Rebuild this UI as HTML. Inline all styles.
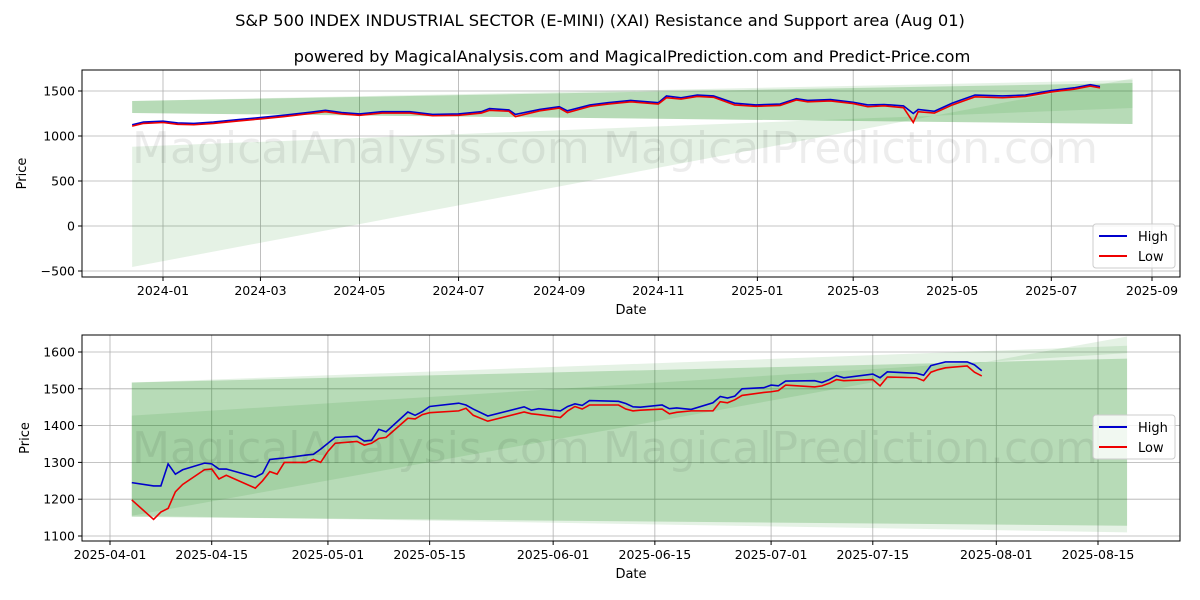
<!DOCTYPE html>
<html><head><meta charset="utf-8">
<style>
body{margin:0;background:#fff;}
svg{display:block;font-family:"DejaVu Sans","Liberation Sans",sans-serif;}
</style></head>
<body>
<svg id="chart" width="1200" height="600" viewBox="0 0 1200 600" xmlns="http://www.w3.org/2000/svg">
<text x="600" y="26" text-anchor="middle" font-size="16.3">S&amp;P 500 INDEX INDUSTRIAL SECTOR (E-MINI) (XAI) Resistance and Support area (Aug 01)</text>
<text x="632" y="62" text-anchor="middle" font-size="16.3">powered by MagicalAnalysis.com and MagicalPrediction.com and Predict-Price.com</text>
<g id="top"></g>
<g id="bot"></g>
</svg>
<script>
// ---- top chart data ----
const topDates=["2023-12-13","2023-12-20","2024-01-01","2024-01-10","2024-01-20","2024-02-01","2024-02-15","2024-03-01","2024-03-15","2024-04-01","2024-04-10","2024-04-20","2024-05-01","2024-05-15","2024-06-01","2024-06-15","2024-07-01","2024-07-15","2024-07-20","2024-08-01","2024-08-05","2024-08-20","2024-09-01","2024-09-06","2024-09-20","2024-10-01","2024-10-15","2024-11-01","2024-11-06","2024-11-15","2024-11-25","2024-12-05","2024-12-18","2024-12-31","2025-01-15","2025-01-25","2025-02-01","2025-02-15","2025-03-01","2025-03-10","2025-03-20","2025-04-01","2025-04-07","2025-04-10","2025-04-20","2025-05-01","2025-05-15","2025-06-01","2025-06-15","2025-07-01","2025-07-15","2025-07-25","2025-07-31"];
const topHigh=[1125,1155,1165,1145,1140,1155,1180,1205,1230,1265,1285,1260,1245,1270,1270,1240,1245,1270,1305,1290,1240,1295,1325,1280,1345,1370,1395,1370,1445,1425,1455,1445,1365,1345,1355,1415,1395,1405,1375,1345,1350,1335,1250,1295,1275,1365,1455,1445,1455,1505,1535,1570,1550];
const topLow=[1110,1140,1150,1130,1125,1140,1165,1190,1215,1250,1270,1245,1230,1255,1255,1225,1230,1255,1285,1275,1215,1280,1310,1260,1330,1355,1380,1355,1425,1410,1440,1430,1345,1330,1340,1400,1380,1390,1360,1325,1335,1315,1150,1270,1255,1345,1435,1425,1440,1490,1520,1555,1535];
const topBandDates=["2023-12-13","2025-08-20"];
const topBand1Upper=[1389,1589], topBand1Lower=[1256,1133];
const topBand2Upper=[1389,1622], topBand2Lower=[1256,1133];
const topWedgeUpper=[880,1311], topWedgeLower=[-455,1640];
const topYTicks=[-500,0,500,1000,1500];
const topXTicks=["2024-01","2024-03","2024-05","2024-07","2024-09","2024-11","2025-01","2025-03","2025-05","2025-07","2025-09"];
// ---- bottom chart data ----
const botDates=["04-04","04-07","04-08","04-09","04-10","04-11","04-14","04-15","04-16","04-17","04-21","04-22","04-23","04-24","04-25","04-28","04-29","04-30","05-01","05-02","05-05","05-06","05-07","05-08","05-09","05-12","05-13","05-14","05-15","05-19","05-20","05-21","05-23","05-28","05-29","05-30","06-02","06-03","06-04","06-05","06-06","06-10","06-11","06-12","06-13","06-16","06-17","06-18","06-20","06-23","06-24","06-25","06-26","06-27","06-30","07-01","07-02","07-03","07-07","07-08","07-09","07-10","07-11","07-15","07-16","07-17","07-21","07-22","07-23","07-24","07-25","07-28","07-29","07-30"];
const botHigh=[1245,1236,1236,1296,1268,1280,1298,1296,1282,1282,1260,1270,1308,1310,1312,1320,1322,1336,1352,1368,1371,1358,1360,1390,1383,1437,1428,1438,1452,1461,1456,1445,1426,1451,1442,1446,1440,1452,1459,1455,1468,1466,1460,1451,1450,1456,1446,1448,1444,1462,1479,1475,1480,1500,1503,1510,1508,1521,1522,1517,1525,1536,1530,1540,1530,1546,1542,1537,1563,1568,1573,1573,1565,1549];
const botLow=[1198,1145,1165,1175,1220,1240,1280,1282,1255,1265,1230,1250,1275,1268,1300,1300,1308,1300,1330,1352,1357,1347,1352,1365,1368,1420,1418,1430,1435,1440,1447,1428,1412,1437,1432,1430,1422,1440,1452,1445,1456,1456,1445,1440,1442,1445,1432,1436,1440,1440,1465,1462,1470,1482,1490,1492,1495,1510,1505,1508,1515,1525,1522,1525,1508,1532,1530,1522,1545,1552,1557,1562,1545,1535];
const botBandDates=["2025-04-04","2025-08-19"];
const botBand1Upper=[1517,1582], botBand1Lower=[1152,1128];
const botBand2Upper=[1517,1617], botBand2Lower=[1155,1110];
const botWedgeUpper=[1427,1597], botWedgeLower=[1155,1642];
const botYTicks=[1100,1200,1300,1400,1500,1600];
const botXTicks=["2025-04-01","2025-04-15","2025-05-01","2025-05-15","2025-06-01","2025-06-15","2025-07-01","2025-07-15","2025-08-01","2025-08-15"];

const NS="http://www.w3.org/2000/svg";
function mk(parent,tag,attrs,txt){const e=document.createElementNS(NS,tag);for(const k in attrs)e.setAttribute(k,attrs[k]);if(txt!==undefined)e.textContent=txt;parent.appendChild(e);return e;}
function t(s){return new Date(s.length===7?s+"-01T00:00:00Z":s+"T00:00:00Z").getTime()/864e5;}

function panel(g,o){
  const {L,R,T,B}=o;
  const xs=d=>o.x0+(t(d)-t(o.d0))*o.ppd;
  const ys=v=>o.y0-(v-o.v0)*o.ppv;
  const cid="clip"+o.id;
  const defs=mk(g,"defs",{});
  const cp=mk(defs,"clipPath",{id:cid});mk(cp,"rect",{x:L,y:T,width:R-L,height:B-T});
  o.xt.forEach(d=>{const l=mk(g,"line",{x1:xs(d),x2:xs(d),y1:T,y2:B,stroke:"#b0b0b0","stroke-width":0.8});
    });
  o.yt.forEach(v=>{const l=mk(g,"line",{x1:L,x2:R,y1:ys(v),y2:ys(v),stroke:"#b0b0b0","stroke-width":0.8});
    });
  const cg=mk(g,"g",{"clip-path":`url(#${cid})`});
  function band(up,lo,op,name){
    const a=xs(o.bd[0]),b=xs(o.bd[1]);
    const p=mk(cg,"polygon",{points:`${a},${ys(up[0])} ${b},${ys(up[1])} ${b},${ys(lo[1])} ${a},${ys(lo[0])}`,fill:"#008000","fill-opacity":op});
    
  }
  band(o.w2u,o.w2l,0.1,'wedge-band');
  band(o.b2u,o.b2l,0.1,'outer-band');
  band(o.b1u,o.b1l,0.2,'support-resistance-band');
  band(o.wu,o.wl,0.1,'inner-band');
  const wm=mk(g,"text",{x:o.wmx1,y:o.wmy,"font-size":44,fill:"#000","fill-opacity":0.07},"MagicalAnalysis.com");
  
  const wm2=mk(g,"text",{x:o.wmx2,y:o.wmy,"font-size":44,fill:"#000","fill-opacity":0.07},"MagicalPrediction.com");
  
  const hp=mk(cg,"polyline",{points:o.dates.map((d,i)=>xs(d)+","+ys(o.hi[i])).join(" "),fill:"none",stroke:"#0000cc","stroke-width":1.6});
  
  const lp=mk(cg,"polyline",{points:o.dates.map((d,i)=>xs(d)+","+ys(o.lo[i])).join(" "),fill:"none",stroke:"#ee0000","stroke-width":1.6});
  
  const fr=mk(g,"rect",{x:L,y:T,width:R-L,height:B-T,fill:"none",stroke:"#000","stroke-width":1});
  
  o.xt.forEach((d,i)=>{mk(g,"line",{x1:xs(d),x2:xs(d),y1:B,y2:B+4,stroke:"#000"});
    const tx=mk(g,"text",{x:xs(d),y:B+18,"text-anchor":"middle","font-size":12.5},o.xl[i]);
    });
  o.yt.forEach(v=>{mk(g,"line",{x1:L-4,x2:L,y1:ys(v),y2:ys(v),stroke:"#000"});
    const tx=mk(g,"text",{x:L-7,y:ys(v)+4.5,"text-anchor":"end","font-size":12.5},v<0?"\u2212"+(-v):String(v));
    });
  const xt=mk(g,"text",{x:(L+R)/2,y:B+37,"text-anchor":"middle","font-size":13},"Date");
  
  const yy=(T+B)/2;
  const yt=mk(g,"text",{x:o.ytx,y:yy,"text-anchor":"middle","font-size":13,transform:`rotate(-90 ${o.ytx} ${yy})`},"Price");
  
  const lg=mk(g,"g",{});
  
  mk(lg,"rect",{x:1093,y:o.ly,width:82,height:44,rx:3,fill:"#fff","fill-opacity":0.8,stroke:"#ccc"});
  mk(lg,"line",{x1:1099,x2:1127,y1:o.ly+12,y2:o.ly+12,stroke:"#0000cc","stroke-width":2});
  mk(lg,"text",{x:1138,y:o.ly+17,"font-size":13},"High");
  mk(lg,"line",{x1:1099,x2:1127,y1:o.ly+32,y2:o.ly+32,stroke:"#ee0000","stroke-width":2});
  mk(lg,"text",{x:1138,y:o.ly+37,"font-size":13},"Low");
}
panel(document.getElementById("top"),{id:"t",L:82,R:1180,T:70,B:277,x0:163,d0:"2024-01-01",ppd:(1152-163)/609,y0:226,v0:0,ppv:0.09,
  dates:topDates,hi:topHigh,lo:topLow,bd:topBandDates,b1u:topBand1Upper,b1l:topBand1Lower,b2u:topBand2Upper,b2l:topBand2Lower,
  wu:[1389,1389],wl:[1389,1389],w2u:topWedgeUpper,w2l:topWedgeLower,yt:topYTicks,xt:topXTicks,xl:topXTicks,ytx:26,ly:224,wmx1:132,wmx2:603,wmy:163});
const bd=botDates.map(d=>"2025-"+d);
panel(document.getElementById("bot"),{id:"b",L:82,R:1180,T:335,B:541,x0:110,d0:"2025-04-01",ppd:(1098-110)/136,y0:352,v0:1600,ppv:(536-352)/500,
  dates:bd,hi:botHigh,lo:botLow,bd:botBandDates,b1u:botBand1Upper,b1l:botBand1Lower,b2u:botBand2Upper,b2l:botBand2Lower,
  wu:botWedgeUpper,wl:botWedgeLower,w2u:[1400,1400],w2l:[1400,1400],yt:botYTicks,xt:botXTicks,xl:botXTicks,ytx:29,ly:415,wmx1:132,wmx2:603,wmy:463});
</script>
</body></html>
